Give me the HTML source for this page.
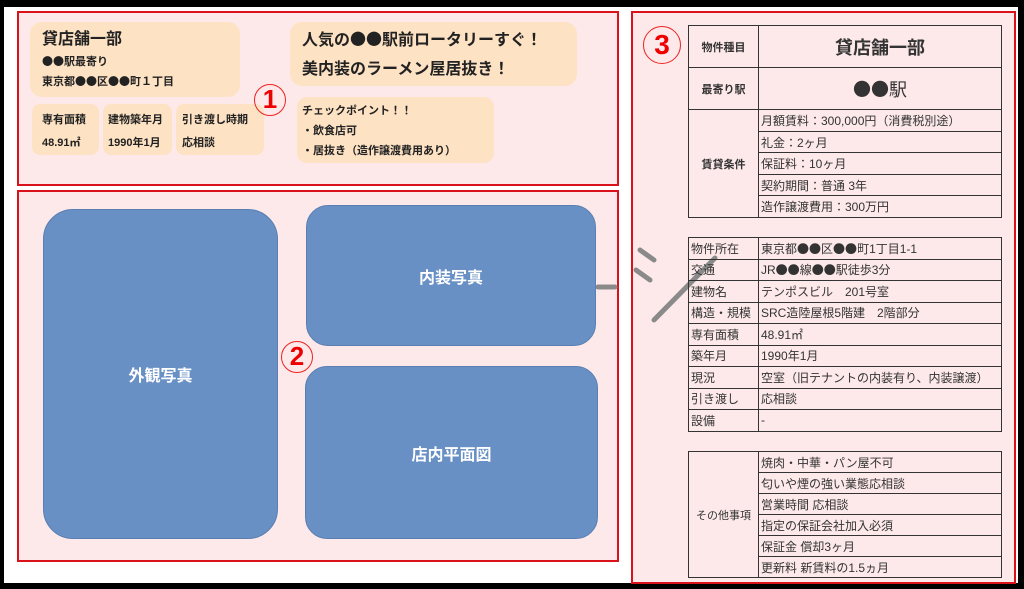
<!DOCTYPE html>
<html><head><meta charset="utf-8"><style>
*{margin:0;padding:0;box-sizing:border-box}
body{width:1024px;height:589px;background:#000;position:relative;overflow:hidden;font-family:"Liberation Sans","Noto Sans CJK JP",sans-serif;color:#222}
.a{position:absolute}
.wh{left:4px;top:7px;width:1014px;height:576px;background:#fff}
.box{background:#fde9ea;border:2px solid #d9121b}
.pe{background:#fde2c4;border-radius:12px}
.b{font-weight:bold}
.k{font-family:"Noto Sans CJK JP",sans-serif}
.blue{background:#6890c5;border:1px solid #5a7fb0;color:#fff;font-weight:bold;font-size:16px;display:flex;align-items:center;justify-content:center}
.circ{width:32px;height:32px;border:1.5px solid #e22;border-radius:50%;color:#e00;font-weight:bold;font-size:26px;line-height:29px;text-align:center;background:transparent}
table{border-collapse:collapse;position:absolute;left:688px;width:314px;font-size:12px;table-layout:fixed}
td{border:1px solid #333;padding:0 2px;white-space:nowrap;overflow:hidden;color:#333}
</style></head><body>
<div class="a wh"></div>
<div class="a box" style="left:17px;top:11px;width:602px;height:175px"></div>
<div class="a box" style="left:17px;top:190px;width:602px;height:372px"></div>
<div class="a box" style="left:631px;top:11px;width:385px;height:573px"></div>

<div class="a pe" style="left:30px;top:22px;width:210px;height:75px"></div>
<div class="a b" style="left:42px;top:25px;font-size:16px">貸店舗一部</div>
<div class="a b" style="left:42px;top:53px;font-size:11px"><span class="k">●●</span>駅最寄り</div>
<div class="a b" style="left:42px;top:73px;font-size:11px">東京都<span class="k">●●</span>区<span class="k">●●</span>町１丁目</div>
<div class="a pe" style="left:32px;top:104px;width:67px;height:51px;border-radius:8px"></div>
<div class="a pe" style="left:103px;top:104px;width:69px;height:51px;border-radius:8px"></div>
<div class="a pe" style="left:176px;top:104px;width:88px;height:51px;border-radius:8px"></div>
<div class="a b" style="left:42px;top:109px;font-size:11px;line-height:23px">専有面積<br>48.91㎡</div>
<div class="a b" style="left:108px;top:109px;font-size:11px;line-height:23px">建物築年月<br>1990年1月</div>
<div class="a b" style="left:182px;top:109px;font-size:11px;line-height:23px">引き渡し時期<br>応相談</div>
<div class="a circ" style="left:254px;top:84px">1</div>
<div class="a pe" style="left:290px;top:22px;width:287px;height:64px"></div>
<div class="a b" style="left:302px;top:24px;font-size:16px;line-height:29px">人気の<span class="k">●●</span>駅前ロータリーすぐ！<br>美内装のラーメン屋居抜き！</div>
<div class="a pe" style="left:297px;top:97px;width:197px;height:66px;border-radius:10px"></div>
<div class="a b" style="left:302px;top:101px;font-size:11px;line-height:20px">チェックポイント！！<br>・飲食店可<br>・居抜き（造作譲渡費用あり）</div>

<svg class="a" style="left:590px;top:240px" width="140" height="90"><g stroke="#8a8a8a" stroke-width="5" stroke-linecap="round"><line x1="8" y1="47" x2="25" y2="47"/><line x1="50" y1="10" x2="64" y2="20"/><line x1="46" y1="30" x2="60" y2="40"/><line x1="64" y1="80" x2="125" y2="18"/></g></svg>

<div class="a blue" style="left:43px;top:209px;width:235px;height:330px;border-radius:30px">外観写真</div>
<div class="a blue" style="left:306px;top:205px;width:290px;height:141px;border-radius:22px">内装写真</div>
<div class="a blue" style="left:305px;top:366px;width:293px;height:173px;border-radius:22px">店内平面図</div>
<div class="a circ" style="left:281px;top:341px">2</div>
<div class="a circ" style="left:643px;top:26px;width:38px;height:38px;font-size:28px;line-height:35px">3</div>

<table style="top:25px">
<colgroup><col style="width:70px"><col></colgroup>
<tr style="height:42px"><td class="b" style="text-align:center;font-size:11px">物件種目</td><td class="b" style="text-align:center;font-size:18px">貸店舗一部</td></tr>
<tr style="height:42px"><td class="b" style="text-align:center;font-size:11px">最寄り駅</td><td style="text-align:center;font-size:18px"><span class="k">●●</span>駅</td></tr>
<tr style="height:22px"><td rowspan="5" class="b" style="text-align:center;font-size:11px">賃貸条件</td><td>月額賃料：300,000円（消費税別途）</td></tr>
<tr style="height:21px"><td>礼金：2ヶ月</td></tr>
<tr style="height:22px"><td>保証料：10ヶ月</td></tr>
<tr style="height:21px"><td>契約期間：普通 3年</td></tr>
<tr style="height:22px"><td>造作譲渡費用：300万円</td></tr>
</table>
<table style="top:237px">
<colgroup><col style="width:70px"><col></colgroup>
<tr style="height:21.5px"><td>物件所在</td><td>東京都<span class="k">●●</span>区<span class="k">●●</span>町1丁目1-1</td></tr>
<tr style="height:21.5px"><td>交通</td><td>JR<span class="k">●●</span>線<span class="k">●●</span>駅徒歩3分</td></tr>
<tr style="height:21.5px"><td>建物名</td><td>テンポスビル　201号室</td></tr>
<tr style="height:21.5px"><td>構造・規模</td><td>SRC造陸屋根5階建　2階部分</td></tr>
<tr style="height:21.5px"><td>専有面積</td><td>48.91㎡</td></tr>
<tr style="height:21.5px"><td>築年月</td><td>1990年1月</td></tr>
<tr style="height:21.5px"><td>現況</td><td>空室（旧テナントの内装有り、内装譲渡）</td></tr>
<tr style="height:21.5px"><td>引き渡し</td><td>応相談</td></tr>
<tr style="height:21.5px"><td>設備</td><td>-</td></tr>
</table>
<table style="top:451px">
<colgroup><col style="width:70px"><col></colgroup>
<tr style="height:21px"><td rowspan="6" style="text-align:center;font-size:11px">その他事項</td><td>焼肉・中華・パン屋不可</td></tr>
<tr style="height:21px"><td>匂いや煙の強い業態応相談</td></tr>
<tr style="height:21px"><td>営業時間 応相談</td></tr>
<tr style="height:21px"><td>指定の保証会社加入必須</td></tr>
<tr style="height:21px"><td>保証金 償却3ヶ月</td></tr>
<tr style="height:21px"><td>更新料 新賃料の1.5ヵ月</td></tr>
</table>
</body></html>
